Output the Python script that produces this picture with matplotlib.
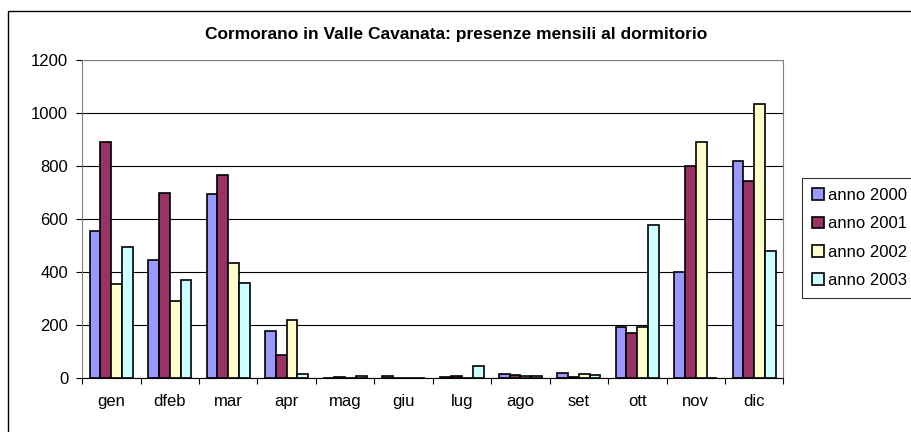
import numpy as np
import matplotlib
matplotlib.use('Agg')
import matplotlib.pyplot as plt
from matplotlib.patches import Rectangle

plt.rcParams['font.family'] = ['Liberation Sans', 'DejaVu Sans']

MONTHS = ['gen', 'dfeb', 'mar', 'apr', 'mag', 'giu', 'lug', 'ago', 'set', 'ott', 'nov', 'dic']
SERIES = ['anno 2000', 'anno 2001', 'anno 2002', 'anno 2003']
Y2000 = [555, 445, 697, 178, 2, 8, 6, 15, 22, 195, 400, 820]
Y2001 = [893, 700, 765, 90, 5, 3, 8, 12, 5, 170, 800, 745]
Y2002 = [355, 293, 435, 220, 2, 1, 1, 8, 15, 195, 890, 1035]
Y2003 = [497, 372, 360, 18, 8, 3, 48, 8, 12, 580, 3, 480]
COLORS = ['#9999FF', '#993366', '#FFFFCC', '#CCFFFF']
FS = 12


def main():
    fig = plt.figure(figsize=(9.12, 4.32), dpi=100)
    ax = fig.add_axes([0.09, 0.124, 0.769, 0.737])

    data = [Y2000, Y2001, Y2002, Y2003]
    x = np.arange(len(MONTHS))
    w = 0.185
    for i, (vals, c) in enumerate(zip(data, COLORS)):
        ax.bar(x + (i - 1.5) * w, vals, width=w, color=c, edgecolor='black',
               linewidth=1.2, label=SERIES[i], zorder=3)

    ax.set_xlim(-0.5, len(MONTHS) - 0.5)
    ax.set_ylim(0, 1200)
    ax.set_yticks(range(0, 1201, 200))
    ax.set_xticks(x)
    ax.set_xticklabels(MONTHS, fontsize=FS)
    ax.set_xticks(np.arange(-0.5, len(MONTHS), 1), minor=True)
    ax.tick_params(axis='x', which='major', length=0, pad=11)
    ax.tick_params(axis='x', which='minor', length=4, direction='out', width=0.8)
    ax.tick_params(axis='y', length=4, direction='out', labelsize=FS, width=0.8, pad=6)
    ax.yaxis.grid(True, color='black', linewidth=0.8, zorder=0)

    for s in ['top', 'right', 'left']:
        ax.spines[s].set_color('#808080')
    ax.spines['bottom'].set_color('black')

    fig.text(0.5, 1 - 35 / 432, 'Cormorano in Valle Cavanata: presenze mensili al dormitorio',
             fontsize=12.5, fontweight='bold', ha='center', va='center')

    leg = fig.legend(loc='upper left', bbox_to_anchor=(802 / 912, 1 - 178 / 432),
                     fontsize=FS, frameon=True, fancybox=False, edgecolor='black',
                     handlelength=0.7, handleheight=0.7, handletextpad=0.25,
                     borderpad=0.6, labelspacing=0.8, borderaxespad=0)
    leg.get_frame().set_linewidth(0.8)

    # outer chart frame, cut off on the right and bottom as in the original
    top = 1 - 10.5 / 432
    fig.patches.append(Rectangle((8 / 912, -0.2), 1.2, top + 0.2,
                                 transform=fig.transFigure, fill=False,
                                 edgecolor='black', linewidth=1.0))

    fig.savefig('out.png', dpi=100)


if __name__ == '__main__':
    main()
